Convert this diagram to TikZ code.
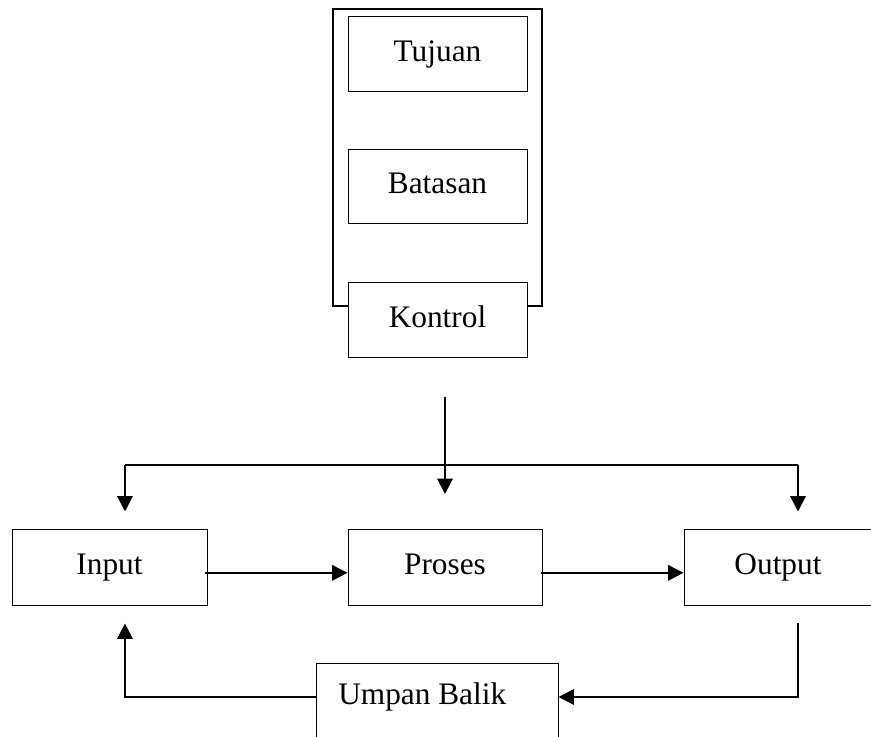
\documentclass[tikz,border=0pt]{standalone}
\usepackage{fontspec}
\setmainfont{Liberation Serif}
\usetikzlibrary{arrows.meta}

\tikzset{
	kotak/.style={draw, line width=0.75pt, inner sep=0pt, text height=15pt, text depth=5pt, font=\fontsize{23.5}{28}\selectfont},
	teks/.style={inner sep=0pt, font=\fontsize{23.5}{28}\selectfont},
	garis/.style={line width=1.5pt},
	panah/.style={line width=1.5pt, -{Triangle[length=11.5pt,width=11.5pt]}},
	bingkai/.style={line width=1.5pt},
}

\begin{document}
\begin{tikzpicture}[x=0.75pt,y=0.75pt,yscale=-1,xscale=1]
	%set diagram size 871 x 737
	\path [use as bounding box, clip] (0,0) rectangle (871,737);

	% Shape: Rectangle  (tujuan, batasan, kontrol)
	\node [kotak, minimum width=134.25pt, minimum height=56.25pt] (tujuan) at (437.5,54.5) {Tujuan};
	\node [kotak, minimum width=134.25pt, minimum height=55.5pt] (batasan) at (437.5,187) {Batasan};
	\node [kotak, minimum width=134.25pt, minimum height=56.25pt] (kontrol) at (437.5,320.5) {Kontrol};
	%Straight Lines  (frame round tujuan .. kontrol)
	\draw [bingkai] (348,306) -- (333,306) -- (333,9) -- (542,9) -- (542,306) -- (527,306) ;

	% Shape: Rectangle  (input, proses, output)
	\node [kotak, minimum width=146.25pt, minimum height=56.25pt] (input) at (109.5,567.5) {Input};
	\node [kotak, minimum width=145.5pt, minimum height=56.25pt] (proses) at (445,567.5) {Proses};
	\node [kotak, minimum width=141pt, minimum height=56.25pt] (output) at (778,567.5) {Output};
	% Shape: Rectangle  (umpan balik, bottom edge off the page)
	\node [kotak, minimum width=181.5pt, minimum height=61.5pt] (umpan) at (437,704) {};
	% Text Node
	\node [teks, anchor=west] (umpanteks) at (338,697) {Umpan Balik};

	\coordinate (atas) at (445,397);
	\coordinate (ujung) at (445,494);
	\coordinate (kiri) at (125,465);
	\coordinate (kanan) at (798,465);

	%Straight Lines  (control arrows)
	\draw [panah] (atas) -- (ujung) ;
	\draw [garis] (kiri) -- (kanan) ;
	\draw [panah] (kiri) -- ([yshift=-13.5pt]input.north -| kiri) ;
	\draw [panah] (kanan) -- ([yshift=-13.5pt]output.north -| kanan) ;

	%Straight Lines  (input -> proses -> output)
	\draw [panah] ([xshift=-2pt,yshift=4pt]input.east) -- ([yshift=4pt]proses.west) ;
	\draw [panah] ([xshift=-1.5pt,yshift=4pt]proses.east) -- ([yshift=4pt]output.west) ;

	%Straight Lines  (feedback)
	\draw [panah] ([xshift=15pt,yshift=12.75pt]output.south) |- ([yshift=-5.25pt]umpan.east) ;
	\draw [panah] ([yshift=-5.25pt]umpan.west) -| ([xshift=11.6pt,yshift=13.5pt]input.south) ;

\end{tikzpicture}
\end{document}
